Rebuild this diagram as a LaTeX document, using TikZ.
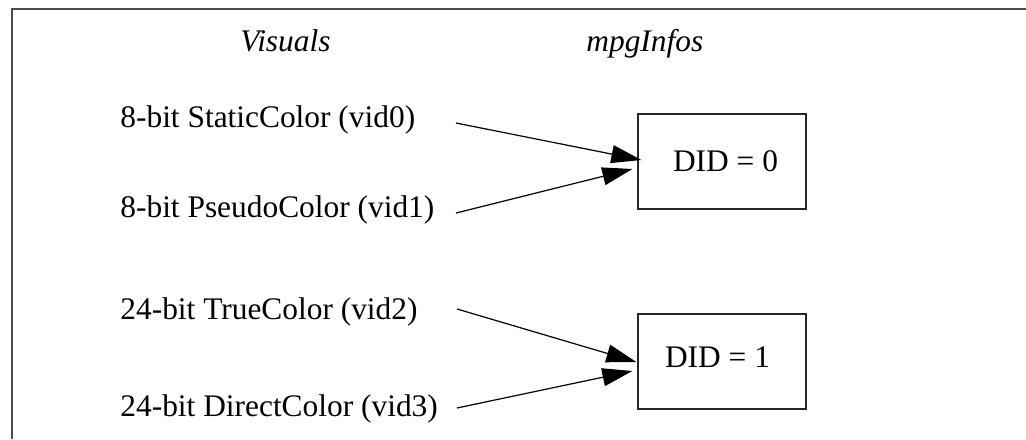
\documentclass[tikz,border=0pt]{standalone}
\usepackage{fontspec}
\setmainfont{Liberation Serif}
\usetikzlibrary{arrows.meta,calc}
\begin{document}
\begin{tikzpicture}[x=0.5pt,y=-0.5pt,
  txt/.style={inner sep=0pt,anchor=base west,font=\fontsize{15.7}{18}\selectfont},
  hdr/.style={txt,font=\fontsize{15.7}{18}\selectfont\itshape},
  didbox/.style={draw=black!85,line width=0.65pt,minimum width=84pt,minimum height=47.5pt,inner sep=0pt},
  conn/.style={draw=black,line width=0.6pt,-{Triangle[length=15pt,width=9pt]}},
  frameline/.style={draw=black!70,line width=1pt}]
\useasboundingbox (0,0) rectangle (1026,439);
\fill[white] (0,0) rectangle (1026,439);
% frame
\coordinate (fa) at (11.5,439);
\coordinate (fb) at (11.5,8.5);
\coordinate (fc) at (1026,8.5);
\draw[frameline] (fa) -- (fb) -- (fc);
% headers
\node[hdr] (hv) at (240,51) {Visuals};
\node[hdr] (hm) at (586,51) {mpgInfos};
% visuals
\node[txt] (v0) at (120,127) {8-bit StaticColor (vid0)};
\node[txt] (v1) at (120,217) {8-bit PseudoColor (vid1)};
\node[txt] (v2) at (120,319) {24-bit TrueColor (vid2)};
\node[txt] (v3) at (120,416) {24-bit DirectColor (vid3)};
% boxes
\node[didbox] (d0) at (722,161.5) {};
\node[didbox] (d1) at (722,361.5) {};
\node[txt,anchor=base] (t0) at (725.5,171) {DID = 0};
\node[txt,anchor=base] (t1) at (717.5,367) {DID = 1};
% connector starts
\coordinate (s0) at (456,123);
\coordinate (s1) at (456,213);
\coordinate (s2) at (457,309);
\coordinate (s3) at (457,408);
\draw[conn] (s0) -- ($(d0.west)+(4,-1.5)$);
\draw[conn] (s1) -- ($(d0.west)+(-5,7.5)$);
\draw[conn] (s2) -- ($(d1.west)+(-1,0.5)$);
\draw[conn] (s3) -- ($(d1.west)+(-5,9.5)$);
\end{tikzpicture}
\end{document}
